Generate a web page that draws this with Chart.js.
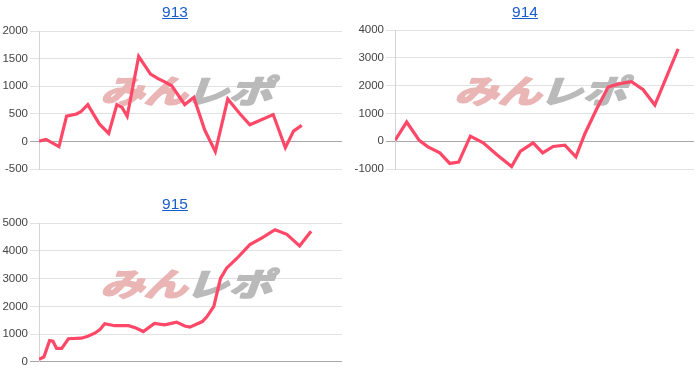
<!DOCTYPE html>
<html>
<head>
<meta charset="utf-8">
<script src="https://cdn.jsdelivr.net/npm/chart.js@4"></script>
<style>
  html,body{margin:0;padding:0;background:#fff;}
  body{width:700px;height:386px;position:relative;overflow:hidden;font-family:"Liberation Sans",Arial,sans-serif;}
  .cell{position:absolute;width:350px;height:192px;}
  .cell canvas{position:absolute;left:0;top:0;}
  .title{position:absolute;left:0;width:350px;top:3px;text-align:center;font-size:15.5px;line-height:17px;z-index:2;}
  .title a{color:#1a5dc8;text-decoration:underline;}
</style>
</head>
<body>
<div class="cell" style="left:0;top:0;"><div class="title"><a href="#">913</a></div><canvas id="c913" width="350" height="192"></canvas></div>
<div class="cell" style="left:350px;top:0;"><div class="title"><a href="#">914</a></div><canvas id="c914" width="350" height="192"></canvas></div>
<div class="cell" style="left:0;top:192px;"><div class="title"><a href="#">915</a></div><canvas id="c915" width="350" height="192"></canvas></div>
<script>
// Machine numbers (chart titles)
const machines = ["913", "914", "915"];

// 913: position along the period (0-100) and value
const pos913 = [0, 2.3, 6.6, 9.1, 12.4, 13.8, 16.1, 19.9, 23.0, 25.7, 27.4, 29.1, 32.9, 36.8, 39.3, 41.5, 43.8, 48.1, 51.1, 54.7, 58.2, 62.3, 66.3, 69.6, 77.3, 81.3, 84.0, 86.7];
const val913 = [10, 40, -90, 460, 500, 540, 670, 320, 150, 670, 620, 460, 1540, 1220, 1140, 1080, 1010, 670, 800, 210, -180, 770, 505, 305, 490, -110, 190, 295];

// 914
const pos914 = [0, 3.9, 8.1, 11.0, 15.0, 18.3, 21.3, 25.2, 29.5, 33.9, 39.0, 41.9, 46.2, 49.4, 52.9, 56.8, 60.5, 63.5, 67.4, 71.3, 75.2, 79.1, 83.0, 86.9, 94.7];
const val914 = [30, 690, 30, -205, -420, -800, -750, 180, -60, -470, -910, -370, -60, -420, -190, -140, -560, 270, 1150, 1950, 2070, 2140, 1850, 1300, 3320];

// 915
const pos915 = [0, 1.6, 3.5, 4.6, 5.8, 7.5, 9.7, 14.0, 16.1, 18.4, 20.1, 21.7, 25.0, 29.6, 32.2, 34.4, 38.1, 41.5, 45.4, 48.1, 49.8, 53.9, 55.4, 57.7, 59.9, 61.9, 65.2, 69.6, 73.6, 77.9, 81.8, 86.0, 89.8];
const val915 = [90, 170, 760, 740, 480, 480, 830, 850, 920, 1030, 1160, 1370, 1300, 1300, 1210, 1090, 1380, 1330, 1430, 1290, 1250, 1450, 1620, 2000, 3010, 3380, 3720, 4230, 4470, 4770, 4600, 4180, 4710];

// Y tick ranges
const yMin = [-500, -1000, 0];
const yMax = [2000, 4000, 5000];
const yStep = [500, 1000, 1000];

const wmPink = "みん";
const wmGray = "レポ";

const watermark = {
  id: 'wm',
  beforeDatasetsDraw(chart) {
    const ctx = chart.ctx, a = chart.chartArea;
    const cx = (a.left + a.right) / 2, cy = (a.top + a.bottom) / 2 - 9;
    ctx.save();
    ctx.font = 'bold 40px "Noto Sans CJK JP"';
    ctx.textBaseline = 'middle';
    const w1 = ctx.measureText(wmPink).width;
    const w2 = ctx.measureText(wmGray).width;
    const gap = -2;
    const total = w1 + gap + w2;
    const sx = 172 / total;
    ctx.translate(cx, cy);
    ctx.transform(sx, 0, -0.3, 0.8, 0, 0);
    ctx.lineJoin = 'round';
    ctx.lineWidth = 2.5;
    ctx.fillStyle = '#eab5b5';
    ctx.strokeStyle = '#eab5b5';
    ctx.fillText(wmPink, -total / 2, 0);
    ctx.strokeText(wmPink, -total / 2, 0);
    ctx.fillStyle = '#bababa';
    ctx.strokeStyle = '#bababa';
    ctx.fillText(wmGray, -total / 2 + w1 + gap, 0);
    ctx.strokeText(wmGray, -total / 2 + w1 + gap, 0);
    ctx.restore();
  }
};

function makeChart(id, pos, val, i, axisW, pad) {
  const pts = pos.map((p, k) => ({x: p, y: val[k]}));
  new Chart(document.getElementById(id), {
    type: 'line',
    data: { datasets: [{ data: pts, borderColor: '#ff4867', borderWidth: 3.2, pointRadius: 0, tension: 0, fill: false }] },
    options: {
      responsive: false, animation: false,
      layout: { padding: pad },
      plugins: { legend: { display: false }, tooltip: { enabled: false }, title: { display: false } },
      scales: {
        x: { type: 'linear', min: 0, max: 100, display: false },
        y: {
          min: yMin[i], max: yMax[i],
          afterFit: s => { s.width = axisW; },
          ticks: { stepSize: yStep[i], color: '#444', font: { family: '"Liberation Sans", Arial, sans-serif', size: 11.5 }, padding: 2, callback: v => String(v) },
          grid: { color: c => (c.tick && c.tick.value === 0) ? '#a8a8a8' : '#e2e2e2', tickLength: 9, lineWidth: 1 },
          border: { color: '#d4d4d4' }
        }
      }
    },
    plugins: [watermark]
  });
}

makeChart('c913', pos913, val913, 0, 39, {top: 31, bottom: 22.7, right: 8, left: 0});
makeChart('c914', pos914, val914, 1, 45, {top: 30, bottom: 23, right: 6, left: 0});
makeChart('c915', pos915, val915, 2, 39, {top: 31.3, bottom: 22.3, right: 8, left: 0});
</script>
</body>
</html>
